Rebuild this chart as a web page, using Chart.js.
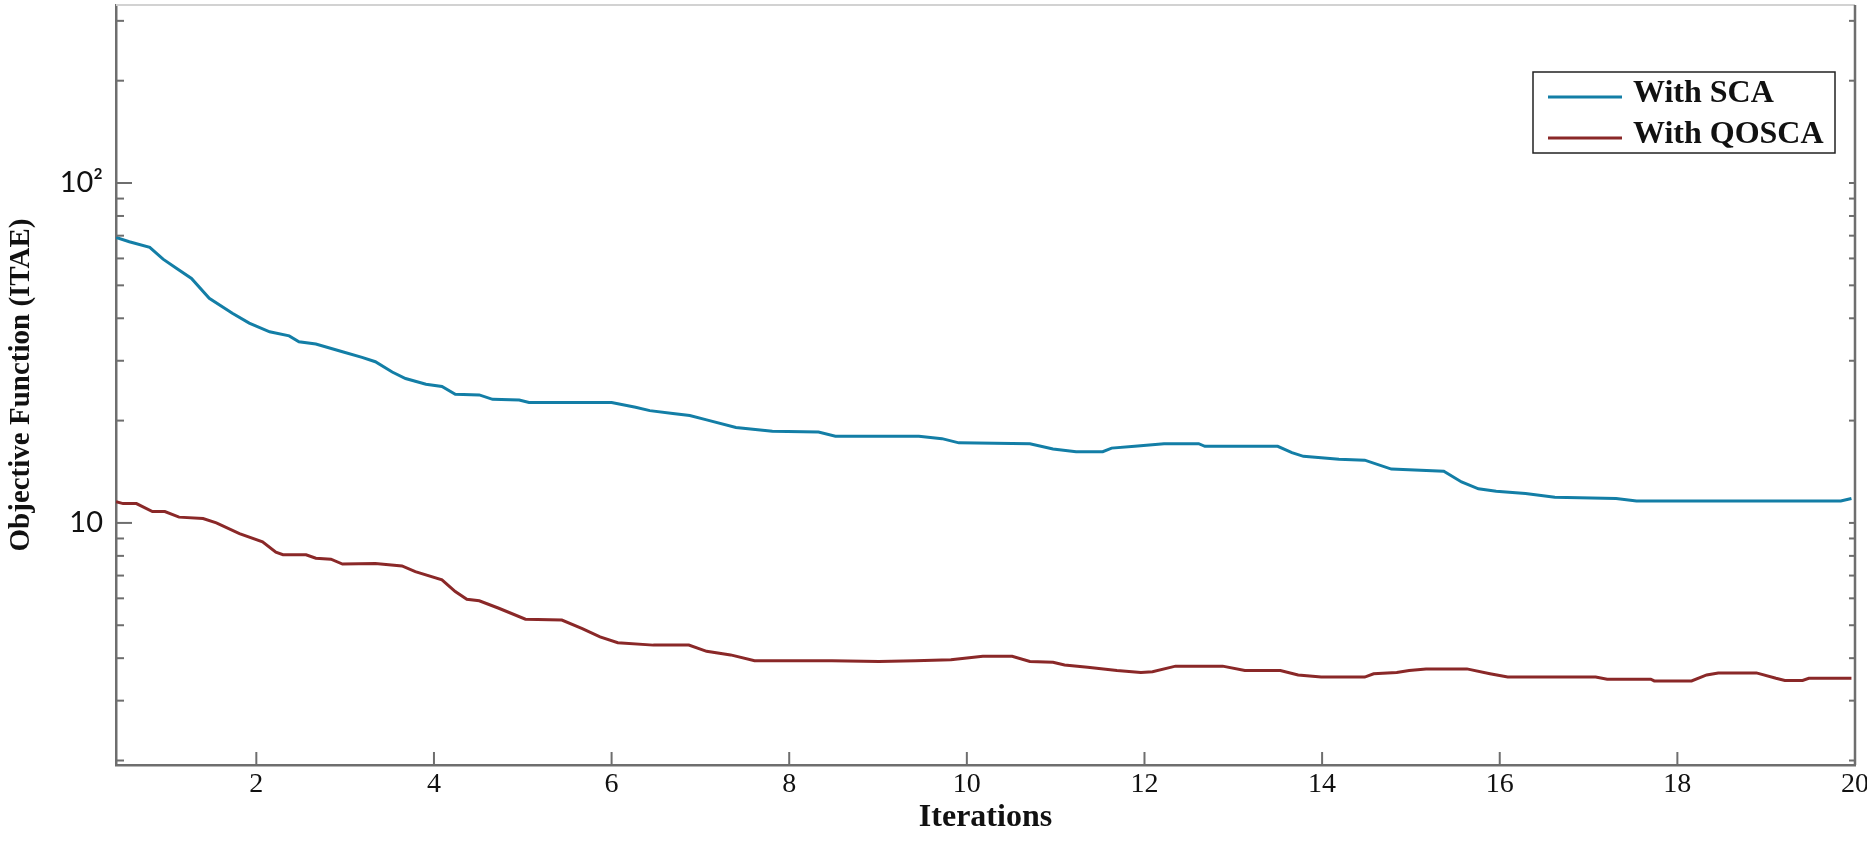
<!DOCTYPE html>
<html>
<head>
<meta charset="utf-8">
<title>Objective Function (ITAE) vs Iterations</title>
<script src="https://cdn.jsdelivr.net/npm/chart.js@4.4.0/dist/chart.umd.min.js"></script>
<style>
  body { margin: 0; background: #fff; }
  #wrap { width: 1867px; height: 846px; }
</style>
</head>
<body>
<div id="wrap"><canvas id="itaeChart" width="1867" height="846"></canvas></div>
<script>
// values (log y axis)
let scaIter = [0.42, 0.57, 0.80, 0.95, 1.10, 1.27, 1.47, 1.73, 1.92, 2.15, 2.37, 2.48, 2.67, 2.97, 3.19,
  3.34, 3.53, 3.68, 3.91, 4.09, 4.24, 4.51, 4.66, 4.96, 5.07, 6.00, 6.27, 6.43, 6.69, 6.88,
  7.07, 7.40, 7.81, 8.33, 8.52, 9.46, 9.72, 9.91, 10.71, 10.97, 11.23, 11.53, 11.63, 11.89, 12.22,
  12.61, 12.68, 13.50, 13.66, 13.79, 14.19, 14.48, 14.78, 15.37, 15.57, 15.76, 15.96, 16.29, 16.62, 17.31,
  17.54, 19.84, 19.96];
let scaValue = [69.2, 67.2, 64.7, 59.7, 56.1, 52.4, 45.8, 41.4, 38.7, 36.5, 35.5, 34.1, 33.6, 31.9, 30.7,
  29.8, 27.8, 26.6, 25.6, 25.2, 23.9, 23.8, 23.1, 23.0, 22.6, 22.6, 21.9, 21.4, 21.0, 20.7,
  20.1, 19.1, 18.6, 18.5, 18.0, 18.0, 17.7, 17.2, 17.1, 16.5, 16.2, 16.2, 16.6, 16.8, 17.1,
  17.1, 16.8, 16.8, 16.1, 15.7, 15.4, 15.3, 14.4, 14.2, 13.2, 12.6, 12.4, 12.2, 11.9, 11.8,
  11.6, 11.6, 11.8];

let qoscaIter = [0.42, 0.50, 0.65, 0.83, 0.97, 1.13, 1.40, 1.55, 1.81, 2.07, 2.22, 2.30, 2.56, 2.67, 2.84,
  2.97, 3.34, 3.64, 3.79, 4.09, 4.24, 4.37, 4.51, 4.73, 5.03, 5.44, 5.67, 5.87, 6.07, 6.47,
  6.87, 7.07, 7.34, 7.61, 8.48, 9.01, 9.42, 9.82, 10.18, 10.51, 10.71, 10.97, 11.10, 11.36, 11.69,
  11.96, 12.09, 12.35, 12.88, 13.13, 13.53, 13.73, 13.99, 14.48, 14.58, 14.84, 14.98, 15.17, 15.63, 15.89,
  16.09, 17.08, 17.21, 17.70, 17.74, 18.16, 18.33, 18.46, 18.89, 19.11, 19.21, 19.41, 19.48, 19.96];
let qoscaValue = [11.55, 11.4, 11.4, 10.8, 10.8, 10.4, 10.3, 10.0, 9.3, 8.8, 8.2, 8.06, 8.06, 7.87, 7.82,
  7.57, 7.60, 7.47, 7.19, 6.80, 6.28, 5.96, 5.90, 5.61, 5.21, 5.18, 4.89, 4.62, 4.44, 4.37,
  4.37, 4.19, 4.09, 3.93, 3.93, 3.91, 3.93, 3.96, 4.05, 4.05, 3.91, 3.89, 3.82, 3.76, 3.68,
  3.63, 3.65, 3.79, 3.79, 3.68, 3.68, 3.57, 3.52, 3.52, 3.60, 3.63, 3.68, 3.72, 3.72, 3.60,
  3.52, 3.52, 3.47, 3.47, 3.43, 3.43, 3.57, 3.62, 3.62, 3.49, 3.44, 3.44, 3.49, 3.49];

let seriesNames = ["With SCA", "With QOSCA"];
let seriesColors = ["#137ea6", "#8a2828"];

let xTicks = [2, 4, 6, 8, 10, 12, 14, 16, 18, 20];
let yTicks = [2, 3, 4, 5, 6, 7, 8, 9, 10, 20, 30, 40, 50, 60, 70, 80, 90, 100, 200, 300];
let yMajor = [10, 100];
let yMajorLabels = ["10", "10\u00B2"];

const serif = "'Liberation Serif', 'Times New Roman', serif";
const axisGray = "#6e6e6e";

function toPoints(xs, ys) {
  return xs.map(function (x, i) { return { x: x, y: ys[i] }; });
}

function line(ctx, x1, y1, x2, y2) {
  ctx.beginPath();
  ctx.moveTo(x1, y1);
  ctx.lineTo(x2, y2);
  ctx.stroke();
}

// top/right frame and the little inward ticks (matlab style)
const frame = {
  id: "frame",
  afterDatasetsDraw(chart) {
    const ctx = chart.ctx;
    const a = chart.chartArea;
    const sx = chart.scales.x;
    const sy = chart.scales.y;
    ctx.save();
    ctx.strokeStyle = "#d2d2d2";
    ctx.lineWidth = 2;
    line(ctx, a.left, a.top, a.right, a.top);
    ctx.strokeStyle = axisGray;
    ctx.lineWidth = 2.5;
    line(ctx, a.right, a.top, a.right, a.bottom);

    ctx.lineWidth = 2;
    sy.ticks.forEach(function (t) {
      let py = sy.getPixelForValue(t.value);
      let len = yMajor.indexOf(t.value) >= 0 ? 16 : 8;
      line(ctx, a.left, py, a.left + len, py);
      line(ctx, a.right, py, a.right - 6, py);
    });
    sx.ticks.forEach(function (t) {
      let px = sx.getPixelForValue(t.value);
      line(ctx, px, a.bottom, px, a.bottom - 13);
    });
    ctx.restore();
  }
};

// boxed legend in the upper right corner
const boxLegend = {
  id: "boxLegend",
  afterDraw(chart) {
    const ctx = chart.ctx;
    ctx.save();
    ctx.fillStyle = "#fff";
    ctx.fillRect(1533, 72, 302, 81);
    ctx.strokeStyle = "#222";
    ctx.lineWidth = 1.5;
    ctx.strokeRect(1533, 72, 302, 81);
    chart.data.datasets.forEach(function (ds, i) {
      let y = 97 + i * 41;
      ctx.strokeStyle = ds.borderColor;
      ctx.lineWidth = 3;
      line(ctx, 1548, y, 1622, y);
      ctx.fillStyle = "#111";
      ctx.font = "bold 32px " + serif;
      ctx.textBaseline = "middle";
      ctx.fillText(ds.label, 1633, y - 3);
    });
    ctx.restore();
  }
};

new Chart(document.getElementById("itaeChart"), {
  type: "line",
  data: {
    datasets: [
      {
        label: seriesNames[0],
        data: toPoints(scaIter, scaValue),
        borderColor: seriesColors[0],
        borderWidth: 3,
        pointRadius: 0,
        tension: 0,
        fill: false
      },
      {
        label: seriesNames[1],
        data: toPoints(qoscaIter, qoscaValue),
        borderColor: seriesColors[1],
        borderWidth: 3,
        pointRadius: 0,
        tension: 0,
        fill: false
      }
    ]
  },
  options: {
    responsive: false,
    animation: false,
    layout: { padding: { left: 0, right: 12, top: 5, bottom: 0 } },
    plugins: {
      legend: { display: false },
      tooltip: { enabled: false }
    },
    scales: {
      x: {
        type: "linear",
        min: 0.42,
        max: 20,
        afterBuildTicks: function (s) { s.ticks = xTicks.map(function (v) { return { value: v }; }); },
        afterFit: function (s) {
          s.height = 81;
          s.paddingLeft = 0;
          s.paddingRight = 0;
        },
        grid: { display: false, drawTicks: false },
        border: { display: true, color: axisGray, width: 2.5 },
        ticks: {
          padding: 3,
          autoSkip: false,
          maxRotation: 0,
          color: "#111",
          font: { family: serif, size: 28 }
        },
        title: {
          display: true,
          text: "Iterations",
          color: "#111",
          font: { family: serif, size: 32, weight: "bold" },
          padding: { top: 0, bottom: 9 }
        }
      },
      y: {
        type: "logarithmic",
        min: 1.94,
        max: 334,
        afterBuildTicks: function (s) {
          s.ticks = yTicks.map(function (v) { return { value: v, major: yMajor.indexOf(v) >= 0 }; });
        },
        afterFit: function (s) {
          s.width = 116;
          s.paddingTop = 0;
          s.paddingBottom = 0;
        },
        grid: { display: false, drawTicks: false },
        border: { display: true, color: axisGray, width: 2.5 },
        ticks: {
          padding: 13,
          autoSkip: false,
          color: "#111",
          font: { family: "Lato, sans-serif", size: 29 },
          callback: function (v) {
            let i = yMajor.indexOf(v);
            return i < 0 ? "" : yMajorLabels[i];
          }
        },
        title: {
          display: true,
          text: "Objective Function (ITAE)",
          color: "#111",
          font: { family: serif, size: 29, weight: "bold" },
          padding: { top: 4, bottom: 0 }
        }
      }
    }
  },
  plugins: [frame, boxLegend]
});
</script>
</body>
</html>
